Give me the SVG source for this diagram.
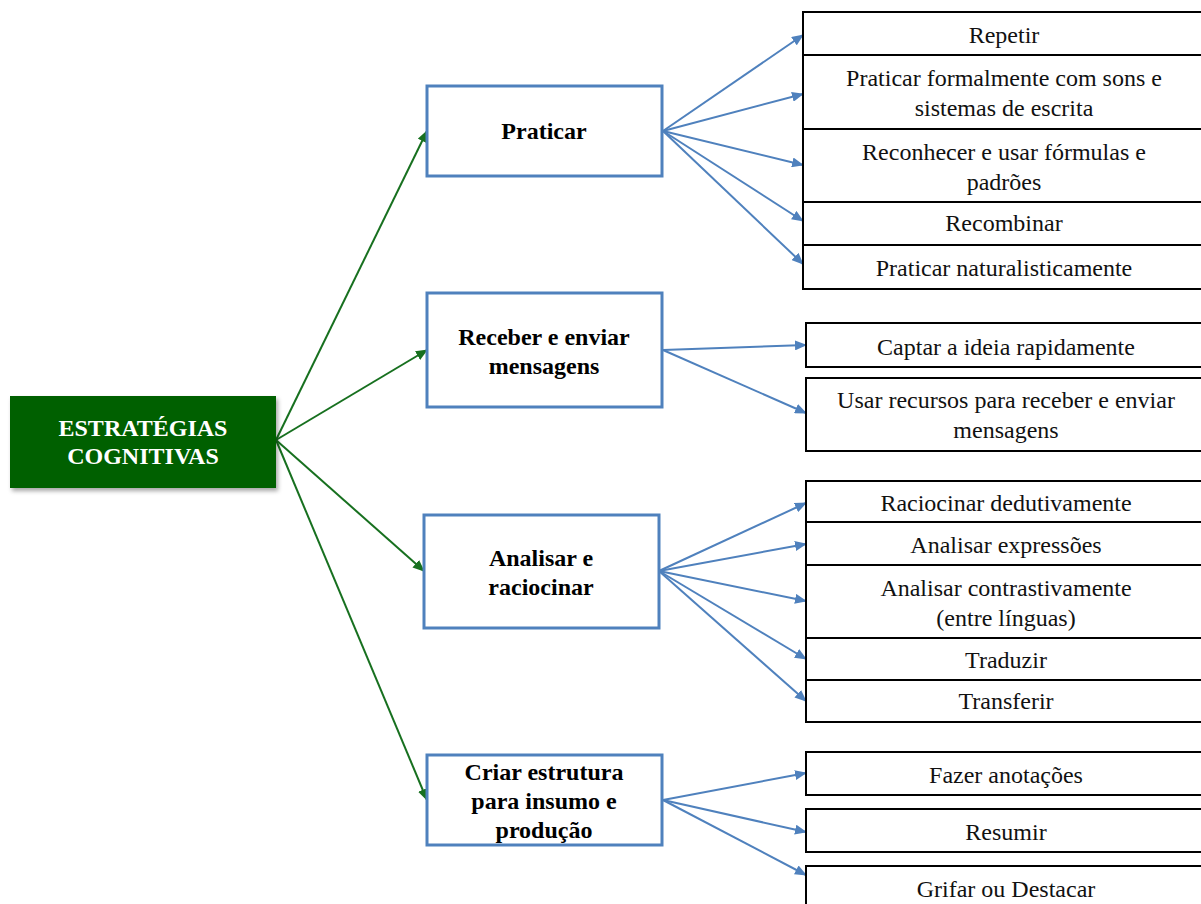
<svg xmlns="http://www.w3.org/2000/svg" width="1201" height="904" viewBox="0 0 1201 904">
  <style>
    .root-box { fill: #006100; }
    .root-text { fill: #ffffff; font-family: "Liberation Serif", "Times New Roman", "DejaVu Serif", serif; font-weight: bold; font-size: 24px; text-anchor: middle; }
    .mid-box { fill: #ffffff; stroke: #4F81BD; stroke-width: 3; }
    .mid-text { fill: #000000; font-family: "Liberation Serif", "Times New Roman", "DejaVu Serif", serif; font-weight: bold; font-size: 24px; text-anchor: middle; }
    .leaf-box { fill: #ffffff; stroke: #000000; stroke-width: 2; }
    .leaf-text { fill: #111111; font-family: "Liberation Serif", "Times New Roman", "DejaVu Serif", serif; font-size: 24px; text-anchor: middle; }
    .edge-green { stroke: #17701f; stroke-width: 2; fill: none; marker-end: url(#arrow-green); }
    .edge-blue { stroke: #4F81BD; stroke-width: 2; fill: none; marker-end: url(#arrow-blue); }
  </style>
  <defs>
    <marker id="arrow-green" markerUnits="userSpaceOnUse" markerWidth="12" markerHeight="10" refX="11" refY="5" orient="auto">
      <path d="M0,0 L12,5 L0,10 Z" fill="#17701f"/>
    </marker>
    <marker id="arrow-blue" markerUnits="userSpaceOnUse" markerWidth="12" markerHeight="10" refX="11" refY="5" orient="auto">
      <path d="M0,0 L12,5 L0,10 Z" fill="#4F81BD"/>
    </marker>
    <filter id="shadow" x="-10%" y="-10%" width="125%" height="130%">
      <feDropShadow dx="2" dy="3" stdDeviation="2" flood-color="#000000" flood-opacity="0.35"/>
    </filter>
  </defs>

  <rect width="1201" height="904" fill="#ffffff"/>

  <!-- connectors -->
  <g id="connectors">
    <line class="edge-green" x1="276" y1="440" x2="427" y2="131"/>
    <line class="edge-green" x1="276" y1="440" x2="427" y2="350"/>
    <line class="edge-green" x1="276" y1="440" x2="424" y2="571"/>
    <line class="edge-green" x1="276" y1="440" x2="427" y2="800"/>

    <line class="edge-blue" x1="663" y1="131" x2="803" y2="35"/>
    <line class="edge-blue" x1="663" y1="131" x2="803" y2="94"/>
    <line class="edge-blue" x1="663" y1="131" x2="803" y2="165"/>
    <line class="edge-blue" x1="663" y1="131" x2="803" y2="221"/>
    <line class="edge-blue" x1="663" y1="131" x2="803" y2="264"/>

    <line class="edge-blue" x1="663" y1="350" x2="806" y2="345"/>
    <line class="edge-blue" x1="663" y1="350" x2="806" y2="413"/>

    <line class="edge-blue" x1="659" y1="571" x2="806" y2="503"/>
    <line class="edge-blue" x1="659" y1="571" x2="806" y2="544"/>
    <line class="edge-blue" x1="659" y1="571" x2="806" y2="601"/>
    <line class="edge-blue" x1="659" y1="571" x2="806" y2="659"/>
    <line class="edge-blue" x1="659" y1="571" x2="806" y2="701"/>

    <line class="edge-blue" x1="663" y1="800" x2="806" y2="773"/>
    <line class="edge-blue" x1="663" y1="800" x2="806" y2="832"/>
    <line class="edge-blue" x1="663" y1="800" x2="806" y2="875"/>
  </g>

  <!-- root -->
  <g id="node-root">
    <rect class="root-box" x="10" y="396" width="266" height="92" filter="url(#shadow)"/>
    <text class="root-text" x="143" y="436">ESTRATÉGIAS</text>
    <text class="root-text" x="143" y="464">COGNITIVAS</text>
  </g>

  <!-- categories -->
  <g id="node-praticar">
    <rect class="mid-box" x="427" y="86" width="235" height="90"/>
    <text class="mid-text" x="544" y="139">Praticar</text>
  </g>
  <g id="node-receber">
    <rect class="mid-box" x="427" y="293" width="235" height="114"/>
    <text class="mid-text" x="544" y="345">Receber e enviar</text>
    <text class="mid-text" x="544" y="374">mensagens</text>
  </g>
  <g id="node-analisar">
    <rect class="mid-box" x="424" y="515" width="235" height="113"/>
    <text class="mid-text" x="541" y="566">Analisar e</text>
    <text class="mid-text" x="541" y="595">raciocinar</text>
  </g>
  <g id="node-criar">
    <rect class="mid-box" x="427" y="755" width="235" height="90"/>
    <text class="mid-text" x="544" y="780">Criar estrutura</text>
    <text class="mid-text" x="544" y="809">para insumo e</text>
    <text class="mid-text" x="544" y="838">produção</text>
  </g>

  <!-- leaves: Praticar -->
  <g id="node-repetir">
    <rect class="leaf-box" x="803" y="12" width="410" height="43"/>
    <text class="leaf-text" x="1004" y="43">Repetir</text>
  </g>
  <g id="node-praticar-formalmente">
    <rect class="leaf-box" x="803" y="55" width="410" height="74"/>
    <text class="leaf-text" x="1004" y="86">Praticar formalmente com sons e</text>
    <text class="leaf-text" x="1004" y="116">sistemas de escrita</text>
  </g>
  <g id="node-reconhecer">
    <rect class="leaf-box" x="803" y="129" width="410" height="73"/>
    <text class="leaf-text" x="1004" y="160">Reconhecer e usar fórmulas e</text>
    <text class="leaf-text" x="1004" y="190">padrões</text>
  </g>
  <g id="node-recombinar">
    <rect class="leaf-box" x="803" y="202" width="410" height="43"/>
    <text class="leaf-text" x="1004" y="231">Recombinar</text>
  </g>
  <g id="node-praticar-naturalisticamente">
    <rect class="leaf-box" x="803" y="245" width="410" height="44"/>
    <text class="leaf-text" x="1004" y="276">Praticar naturalisticamente</text>
  </g>

  <!-- leaves: Receber e enviar -->
  <g id="node-captar">
    <rect class="leaf-box" x="806" y="323" width="410" height="44"/>
    <text class="leaf-text" x="1006" y="355">Captar a ideia rapidamente</text>
  </g>
  <g id="node-usar-recursos">
    <rect class="leaf-box" x="806" y="378" width="410" height="73"/>
    <text class="leaf-text" x="1006" y="408">Usar recursos para receber e enviar</text>
    <text class="leaf-text" x="1006" y="438">mensagens</text>
  </g>

  <!-- leaves: Analisar e raciocinar -->
  <g id="node-raciocinar">
    <rect class="leaf-box" x="806" y="481" width="410" height="41"/>
    <text class="leaf-text" x="1006" y="511">Raciocinar dedutivamente</text>
  </g>
  <g id="node-analisar-expressoes">
    <rect class="leaf-box" x="806" y="522" width="410" height="43"/>
    <text class="leaf-text" x="1006" y="553">Analisar expressões</text>
  </g>
  <g id="node-analisar-contrastivamente">
    <rect class="leaf-box" x="806" y="565" width="410" height="73"/>
    <text class="leaf-text" x="1006" y="596">Analisar contrastivamente</text>
    <text class="leaf-text" x="1006" y="626">(entre línguas)</text>
  </g>
  <g id="node-traduzir">
    <rect class="leaf-box" x="806" y="638" width="410" height="42"/>
    <text class="leaf-text" x="1006" y="668">Traduzir</text>
  </g>
  <g id="node-transferir">
    <rect class="leaf-box" x="806" y="680" width="410" height="42"/>
    <text class="leaf-text" x="1006" y="709">Transferir</text>
  </g>

  <!-- leaves: Criar estrutura -->
  <g id="node-fazer-anotacoes">
    <rect class="leaf-box" x="806" y="752" width="410" height="43"/>
    <text class="leaf-text" x="1006" y="783">Fazer anotações</text>
  </g>
  <g id="node-resumir">
    <rect class="leaf-box" x="806" y="809" width="410" height="43"/>
    <text class="leaf-text" x="1006" y="840">Resumir</text>
  </g>
  <g id="node-grifar">
    <rect class="leaf-box" x="806" y="866" width="410" height="50"/>
    <text class="leaf-text" x="1006" y="897">Grifar ou Destacar</text>
  </g>
</svg>
